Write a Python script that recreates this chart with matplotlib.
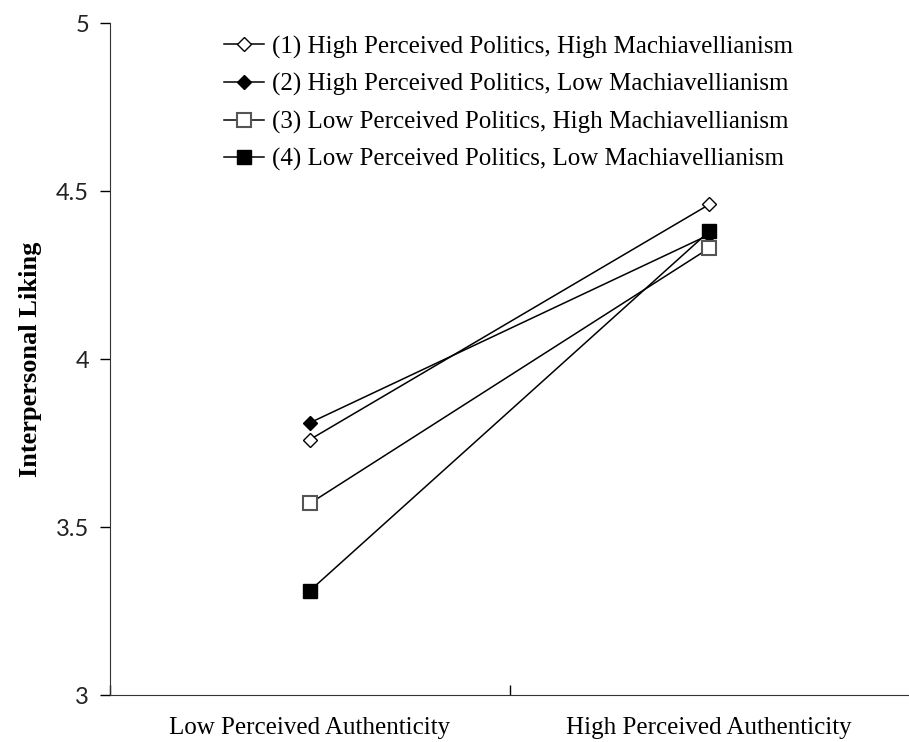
import matplotlib.pyplot as plt
import numpy as np

categories = ['Low Perceived Authenticity', 'High Perceived Authenticity']
labels = ['(1) High Perceived Politics, High Machiavellianism',
          '(2) High Perceived Politics, Low Machiavellianism',
          '(3) Low Perceived Politics, High Machiavellianism',
          '(4) Low Perceived Politics, Low Machiavellianism']
s1 = [3.76, 4.46]
s2 = [3.81, 4.37]
s3 = [3.57, 4.33]
s4 = [3.31, 4.38]

serif = 'Liberation Serif'

fig = plt.figure(figsize=(9.09, 7.42), dpi=100)
ax = fig.add_axes([110 / 909, 47 / 742, 799 / 909, 672 / 742])

x = np.arange(len(categories))
# open diamond, filled diamond, open square, filled square
ax.plot(x, s1, color='black', lw=1.1, marker='D', ms=7, mfc='white', mec='black', mew=1.0, label=labels[0])
ax.plot(x, s2, color='black', lw=1.1, marker='D', ms=7, mfc='black', mec='black', label=labels[1])
ax.plot(x, s3, color='black', lw=1.1, marker='s', ms=10, mfc='white', mec='#555555', mew=1.5, label=labels[2])
ax.plot(x, s4, color='black', lw=1.1, marker='s', ms=10, mfc='black', mec='black', label=labels[3])

ax.set_xlim(-0.5, 1.5)
ax.set_ylim(3, 5)
ax.set_yticks([3, 3.5, 4, 4.5, 5])
ax.set_yticklabels(['3', '3.5', '4', '4.5', '5'], fontfamily='Lato', fontsize=17, color='#222222')
ax.set_xticks([-0.5, 0.5], labels=['', ''])
ax.set_xticks(x, labels=categories, minor=True)
ax.tick_params(axis='x', which='minor', length=0, pad=16)
ax.tick_params(axis='x', which='major', length=7, direction='in', width=1)
ax.tick_params(axis='y', length=7, direction='out', width=1, pad=8)
for t in ax.get_xticklabels(minor=True):
    t.set_fontfamily(serif)
    t.set_fontsize(18)

ax.spines['top'].set_visible(False)
ax.spines['right'].set_visible(False)
ax.spines['left'].set_color('#333333')
ax.spines['bottom'].set_color('#333333')

ax.set_ylabel('Interpersonal Liking', fontfamily=serif, fontweight='bold', fontsize=19, labelpad=10)

ax.legend(loc='upper left', bbox_to_anchor=(91 / 799, 1.015), frameon=False,
          prop={'family': serif, 'size': 18}, handlelength=1.6, labelspacing=0.58,
          handletextpad=0.35)

fig.savefig('out.png', dpi=100)
